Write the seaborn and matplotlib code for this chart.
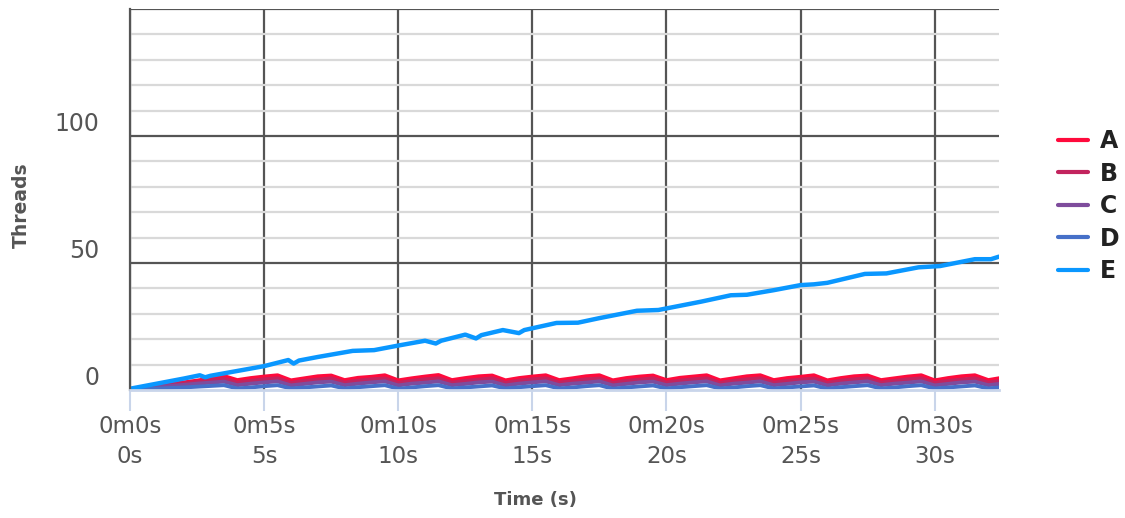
import pandas as pd
import matplotlib.pyplot as plt
import seaborn as sns
from matplotlib.ticker import MultipleLocator

# sampled every 0.5 s for the four small thread pools
pool_time = [0.0, 0.5, 1.0, 1.5, 2.0, 2.5, 3.0, 3.5, 4.0, 4.5, 5.0, 5.5, 6.0, 6.5, 7.0, 7.5,
             8.0, 8.5, 9.0, 9.5, 10.0, 10.5, 11.0, 11.5, 12.0, 12.5, 13.0, 13.5, 14.0, 14.5,
             15.0, 15.5, 16.0, 16.5, 17.0, 17.5, 18.0, 18.5, 19.0, 19.5, 20.0, 20.5, 21.0,
             21.5, 22.0, 22.5, 23.0, 23.5, 24.0, 24.5, 25.0, 25.5, 26.0, 26.5, 27.0, 27.5,
             28.0, 28.5, 29.0, 29.5, 30.0, 30.5, 31.0, 31.5, 32.0, 32.5]

a_threads = [0.2, 0.9, 1.6, 2.3, 3.0, 3.7, 4.6, 5.5, 3.9, 4.7, 5.3, 5.8, 3.8, 4.6, 5.4, 5.7,
             3.9, 4.8, 5.2, 5.8, 3.8, 4.6, 5.3, 5.9, 3.9, 4.7, 5.4, 5.7, 3.8, 4.7, 5.3, 5.8,
             3.9, 4.6, 5.4, 5.8, 3.8, 4.7, 5.3, 5.7, 3.9, 4.8, 5.3, 5.8, 3.8, 4.6, 5.4, 5.8,
             3.9, 4.7, 5.2, 5.8, 3.8, 4.7, 5.4, 5.7, 3.9, 4.6, 5.3, 5.8, 3.8, 4.7, 5.4, 5.8,
             3.9, 4.8]
b_threads = [0.2, 0.8, 1.4, 2.0, 2.6, 3.2, 3.8, 4.4, 2.9, 3.6, 4.2, 4.6, 2.8, 3.6, 4.1, 4.6,
             2.9, 3.7, 4.2, 4.5, 2.8, 3.6, 4.2, 4.6, 2.9, 3.6, 4.1, 4.6, 2.8, 3.7, 4.2, 4.6,
             2.9, 3.6, 4.2, 4.5, 2.8, 3.6, 4.1, 4.6, 2.9, 3.7, 4.2, 4.6, 2.8, 3.6, 4.2, 4.6,
             2.9, 3.6, 4.1, 4.5, 2.8, 3.7, 4.2, 4.6, 2.9, 3.6, 4.2, 4.6, 2.8, 3.6, 4.1, 4.6,
             2.9, 3.7]
c_threads = [0.1, 0.6, 1.1, 1.6, 2.0, 2.5, 2.9, 3.3, 1.9, 2.5, 3.0, 3.4, 1.8, 2.4, 3.0, 3.3,
             1.9, 2.5, 3.0, 3.4, 1.8, 2.5, 2.9, 3.4, 1.9, 2.4, 3.0, 3.3, 1.8, 2.5, 3.0, 3.4,
             1.9, 2.5, 2.9, 3.4, 1.8, 2.4, 3.0, 3.3, 1.9, 2.5, 3.0, 3.4, 1.8, 2.5, 2.9, 3.4,
             1.9, 2.4, 3.0, 3.3, 1.8, 2.5, 3.0, 3.4, 1.9, 2.5, 2.9, 3.4, 1.8, 2.4, 3.0, 3.3,
             1.9, 2.5]
d_threads = [0.1, 0.3, 0.5, 0.8, 1.0, 1.3, 1.6, 1.9, 0.6, 1.0, 1.5, 1.9, 0.6, 1.0, 1.4, 1.8,
             0.6, 1.1, 1.5, 1.9, 0.5, 1.0, 1.5, 1.9, 0.6, 1.0, 1.4, 1.8, 0.6, 1.1, 1.5, 1.9,
             0.6, 1.0, 1.5, 1.9, 0.5, 1.0, 1.4, 1.8, 0.6, 1.1, 1.5, 1.9, 0.6, 1.0, 1.5, 1.9,
             0.6, 1.0, 1.4, 1.8, 0.5, 1.1, 1.5, 1.9, 0.6, 1.0, 1.5, 1.9, 0.6, 1.0, 1.4, 1.8,
             0.6, 1.1]

# pool E keeps growing, read at its corners
e_time = [0, 1.0, 2.0, 2.6, 2.8, 3.0, 4.0, 5.0, 5.9, 6.1, 6.3, 7.0, 8.3, 9.1, 10.0, 11.0,
          11.4, 11.6, 12.5, 12.9, 13.1, 13.9, 14.5, 14.7, 15.9, 16.7, 17.5, 18.9, 19.7, 21.3,
          22.4, 23.0, 24.0, 25.0, 25.5, 26.0, 27.4, 28.2, 29.4, 30.2, 31.5, 32.1, 32.4]
e_threads = [0.5, 2.5, 4.5, 5.8, 5.0, 5.6, 7.5, 9.4, 11.8, 10.4, 11.6, 13.0, 15.4, 15.7, 17.5,
             19.4, 18.3, 19.4, 21.8, 20.3, 21.6, 23.6, 22.4, 23.6, 26.4, 26.5, 28.3, 31.2, 31.5,
             34.8, 37.3, 37.5, 39.3, 41.3, 41.6, 42.2, 45.7, 45.9, 48.3, 48.8, 51.5, 51.5, 52.5]

series = ["A", "B", "C", "D", "E"]
colors = ["#FF0A3C", "#C2245E", "#7E4C9C", "#4670C8", "#0A97FF"]
x_ticks = [0, 5, 10, 15, 20, 25, 30]
x_labels = ["0m0s\n0s", "0m5s\n5s", "0m10s\n10s", "0m15s\n15s", "0m20s\n20s", "0m25s\n25s", "0m30s\n30s"]
y_ticks = [0, 50, 100, 150]
y_labels = ["0", "50", "100", ""]

frames = []
for name, vals in zip(series[:4], [a_threads, b_threads, c_threads, d_threads]):
    frames.append(pd.DataFrame({"time": pool_time, "threads": vals, "pool": name}))
frames.append(pd.DataFrame({"time": e_time, "threads": e_threads, "pool": "E"}))
df = pd.concat(frames, ignore_index=True)

sns.set_theme(style="white")
plt.rcParams["font.family"] = ["DejaVu Sans"]

fig = plt.figure(figsize=(11.25, 5.18), dpi=100)
ax = fig.add_axes([0.1156, 0.2471, 0.7724, 0.7355])

sns.lineplot(data=df, x="time", y="threads", hue="pool", hue_order=series,
             palette=colors, estimator=None, sort=False, linewidth=2.8, ax=ax)
ax.get_lines()[4].set_linewidth(3.2)

ax.set_xlim(0, 32.4)
ax.set_ylim(0, 150)
ax.set_xticks(x_ticks)
ax.set_xticklabels(x_labels, fontsize=16.5, color="#555555", linespacing=1.4)
ax.set_yticks(y_ticks)
ax.set_yticklabels(y_labels, fontsize=17, color="#555555", va="bottom")
ax.yaxis.set_minor_locator(MultipleLocator(10))

ax.set_axisbelow(True)
ax.grid(which="major", axis="both", color="#555555", linewidth=1.6)
ax.grid(which="minor", axis="y", color="#d9d9d9", linewidth=1.6)
ax.get_ygridlines()[0].set_visible(False)

ax.tick_params(axis="x", which="major", length=15, width=1.5, color="#c9d5ea",
               direction="out", pad=3, bottom=True)
ax.tick_params(axis="y", which="both", length=0, pad=22)

for side in ["top", "right"]:
    ax.spines[side].set_visible(False)
ax.spines["left"].set_color("#555555")
ax.spines["left"].set_linewidth(1.6)
ax.spines["bottom"].set_color("#c9d5ea")
ax.spines["bottom"].set_linewidth(2)

ax.set_xlabel("Time (s)", fontsize=13, fontweight="bold", color="#555555")
ax.xaxis.set_label_coords(0.467, -0.289)
ax.xaxis.label.set_va("center")
ax.set_ylabel("Threads", fontsize=13.5, fontweight="bold", color="#555555")
ax.yaxis.set_label_coords(-0.125, 0.486)
ax.yaxis.label.set_va("center")

leg = ax.legend(loc="upper left", bbox_to_anchor=(1.068, 0.685), frameon=False,
                borderpad=0, borderaxespad=0, handlelength=1.27, handletextpad=0.51,
                labelspacing=0.36, prop={"size": 17, "weight": "bold"})
for t in leg.get_texts():
    t.set_color("#222222")
for h in leg.get_lines():
    h.set_linewidth(3)

fig.savefig("out.png", dpi=100)
